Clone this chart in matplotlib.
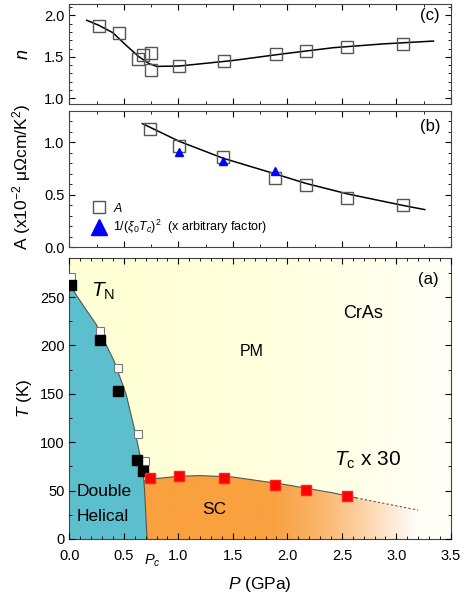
import numpy as np
import matplotlib
matplotlib.use("Agg")
import matplotlib.pyplot as plt
from matplotlib.patches import Polygon
from matplotlib.colors import to_rgb

plt.rcParams["font.family"] = ["Liberation Sans", "DejaVu Sans"]
plt.rcParams["mathtext.fontset"] = "custom"
plt.rcParams["mathtext.rm"] = "Liberation Sans"
plt.rcParams["mathtext.it"] = "Liberation Sans:italic"

# ---- panel (c): exponent n ----
P_n = [0.27, 0.46, 0.63, 0.68, 0.75, 0.75, 1.01, 1.42, 1.90, 2.17, 2.55, 3.06]
n_vals = [1.87, 1.79, 1.47, 1.52, 1.55, 1.34, 1.39, 1.45, 1.54, 1.57, 1.62, 1.66]
fit_n_P = [0.16, 0.27, 0.40, 0.52, 0.64, 0.73, 0.80, 1.01, 1.50, 1.96, 2.42, 2.88, 3.34]
fit_n = [1.94, 1.88, 1.79, 1.64, 1.50, 1.42, 1.385, 1.39, 1.456, 1.536, 1.61, 1.656, 1.69]

# ---- panel (b): A coefficient ----
P_A = [0.74, 1.01, 1.41, 1.89, 2.17, 2.55, 3.06]
A_vals = [1.13, 0.97, 0.86, 0.66, 0.59, 0.47, 0.40]
P_xi = [1.01, 1.41, 1.89]
xi_vals = [0.905, 0.825, 0.73]
fit_A_P = [0.67, 1.01, 1.41, 1.89, 2.17, 2.55, 3.06, 3.26]
fit_A = [1.18, 1.01, 0.85, 0.70, 0.61, 0.51, 0.40, 0.36]

# ---- panel (a): phase diagram ----
P_TN_full = [0.015, 0.28, 0.45, 0.62, 0.68]
T_TN_full = [262, 205.5, 152.6, 81.3, 70.3]
P_TN_open = [0.015, 0.28, 0.45, 0.63, 0.69]
T_TN_open = [270.6, 215, 177, 108.7, 80.6]
P_Tc = [0.74, 1.01, 1.42, 1.89, 2.17, 2.55]
Tc_x30 = [63, 64.8, 62.8, 55.6, 50.9, 44.7]

# phase boundaries
bnd_P = [0.0, 0.12, 0.245, 0.41, 0.52, 0.58, 0.63, 0.67, 0.685, 0.695, 0.713]
bnd_T = [263, 242.5, 222, 184, 150, 122, 96.7, 74, 60, 40, 0]
sc_P = [0.685, 0.80, 1.01, 1.20, 1.50, 1.96, 2.42, 2.63]
sc_T = [60, 62.5, 64.8, 65.5, 64, 56.6, 47.6, 42.5]
sc_dash_P = [2.63, 3.20]
sc_dash_T = [42.5, 29.8]

teal = "#5CBFCD"
orange = "#F9A03F"
pale_yellow = "#FFFFD6"

fig = plt.figure(figsize=(4.62, 5.99), dpi=100)
L, W = 0.150, 0.826
ax_c = fig.add_axes([L, 0.826, W, 0.1665])
ax_b = fig.add_axes([L, 0.587, W, 0.2277])
ax_a = fig.add_axes([L, 0.1002, W, 0.4686])


def style(ax):
    ax.tick_params(which="both", top=True, right=True, direction="in",
                   labelsize=10.5)
    ax.tick_params(axis="y", which="major", length=4)
    ax.tick_params(axis="y", which="minor", length=2)
    ax.tick_params(axis="x", which="major", length=4)
    ax.tick_params(axis="x", which="minor", length=2)
    for s in ax.spines.values():
        s.set_color("#444444")


# (c)
ax = ax_c
ax.plot(fit_n_P, fit_n, color="black", lw=1.1)
ax.plot(P_n, n_vals, "s", ms=8.5, mfc="none", mec="#555555", mew=1.0)
ax.set_xlim(0, 3.5)
ax.set_ylim(0.93, 2.13)
ax.set_yticks([1.0, 1.5, 2.0])
ax.set_yticks(np.arange(1.0, 2.11, 0.1), minor=True)
ax.set_xticks(np.arange(0, 3.51, 0.5))
ax.set_xticks(np.arange(0, 3.51, 0.25), minor=True)
ax.set_xticklabels([])
style(ax)
ax.set_ylabel("$n$", fontsize=13, labelpad=9)
ax.text(3.31, 2.0, "(c)", fontsize=12, ha="center", va="center")

# (b)
ax = ax_b
ax.plot(fit_A_P, fit_A, color="black", lw=1.1)
ax.plot(P_A, A_vals, "s", ms=8.5, mfc="none", mec="#555555", mew=1.0,
        label="$A$")
ax.plot(P_xi, xi_vals, "^", ms=6, color="#0000FF", mec="#0000FF",
        label="1/($\\xi_0T_c$)$^2$  (x arbitrary factor)")
ax.set_xlim(0, 3.5)
ax.set_ylim(0, 1.3)
ax.set_yticks([0.0, 0.5, 1.0])
ax.set_yticks(np.arange(0, 1.31, 0.1), minor=True)
ax.set_xticks(np.arange(0, 3.51, 0.5))
ax.set_xticks(np.arange(0, 3.51, 0.25), minor=True)
ax.set_xticklabels([])
style(ax)
ax.text(3.31, 1.15, "(b)", fontsize=12, ha="center", va="center")
leg = ax.legend(loc="lower left", bbox_to_anchor=(0.03, 0.0), frameon=False,
                fontsize=9, handletextpad=0.5, labelspacing=0.25,
                handlelength=1.2, borderpad=0.4)
leg.legend_handles[1].set_markersize(11)
fig.text(0.047, 0.705, "A (x10$^{-2}$ \u03bc\u03a9cm/K$^{2}$)", rotation=90,
         fontsize=12.5, ha="center", va="center")

# (a)
ax = ax_a
# pale yellow background fading to white towards high pressure
grad = np.linspace(0, 1, 256)
fade_bg = 0.85 * grad ** 2.2
c0 = np.array(to_rgb(pale_yellow))
bg = c0[None, :] * (1 - fade_bg[:, None]) + fade_bg[:, None]
ax.imshow(bg[None, :, :], extent=[0, 3.5, 0, 290], aspect="auto",
          origin="lower", zorder=0, interpolation="bilinear")

# double helical region
teal_poly = list(zip(bnd_P, bnd_T)) + [(0.0, 0.0)]
ax.add_patch(Polygon(teal_poly, closed=True, facecolor=teal,
                     edgecolor="none", zorder=1))

# superconducting region with fade to white
sc_poly = [(0.685, 60), (0.695, 40), (0.713, 0), (3.2, 0),
           (sc_dash_P[1], sc_dash_T[1])]
sc_poly += list(zip(sc_P[::-1], sc_T[::-1]))
clip = Polygon(sc_poly, closed=True, facecolor="none", edgecolor="none")
ax.add_patch(clip)
xs = np.linspace(0, 3.5, 400)
fade = np.clip((xs - 1.8) / (3.2 - 1.8), 0, 1) ** 1.4
co = np.array(to_rgb(orange))
og = co[None, :] * (1 - fade[:, None]) + fade[:, None]
im = ax.imshow(og[None, :, :], extent=[0, 3.5, 0, 290], aspect="auto",
               origin="lower", zorder=1.5, interpolation="bilinear")
im.set_clip_path(clip)

ax.plot(bnd_P, bnd_T, color="#555555", lw=0.8, zorder=2)
ax.plot(sc_P, sc_T, color="#555555", lw=0.8, zorder=2)
ax.plot(sc_dash_P, sc_dash_T, color="#555555", lw=0.8, ls=(0, (2, 2)),
        zorder=2)

ax.plot(P_TN_open, T_TN_open, "s", ms=5.5, mfc="white", mec="#777777",
        mew=0.8, zorder=3)
ax.plot(P_TN_full, T_TN_full, "s", ms=6.5, color="black", zorder=3)
ax.plot(P_Tc, Tc_x30, "s", ms=6.5, color="#FF0000", mec="#FF2020", zorder=3)

ax.set_xlim(0, 3.5)
ax.set_ylim(0, 290)
ax.set_xticks(np.arange(0, 3.51, 0.5))
ax.set_xticks(np.arange(0, 3.51, 0.1), minor=True)
ax.set_yticks(np.arange(0, 251, 50))
ax.set_yticks(np.arange(0, 290, 25), minor=True)
style(ax)
ax.tick_params(axis="y", which="both", left=True, direction="out")
ax.tick_params(axis="y", which="both", right=True, direction="in")
ax.tick_params(axis="x", which="major", pad=7)
ax.set_axisbelow(False)

ax.set_xlabel("$P$ (GPa)", fontsize=12.5, labelpad=9)
ax.set_ylabel("$T$ (K)", fontsize=12.5, labelpad=4)

ax.text(0.2, 256, "$T_{\\rm N}$", fontsize=15, ha="left", va="center")
ax.text(2.69, 232.5, "CrAs", fontsize=13, ha="center", va="center")
ax.text(1.67, 194, "PM", fontsize=11.5, ha="center", va="center")
ax.text(3.29, 268.5, "(a)", fontsize=12, ha="center", va="center")
ax.text(1.33, 30, "SC", fontsize=12.5, ha="center", va="center")
ax.text(0.07, 48.7, "Double", fontsize=12.5, ha="left", va="center")
ax.text(0.07, 23, "Helical", fontsize=12.5, ha="left", va="center")
ax.text(2.43, 81, "$T_{\\rm c}$ x 30", fontsize=15, ha="left", va="center")
ax.text(0.76, -0.078, "$P_{c}$", fontsize=10.5, ha="center", va="center",
        transform=ax.get_xaxis_transform())

fig.savefig("out.png", dpi=100)
